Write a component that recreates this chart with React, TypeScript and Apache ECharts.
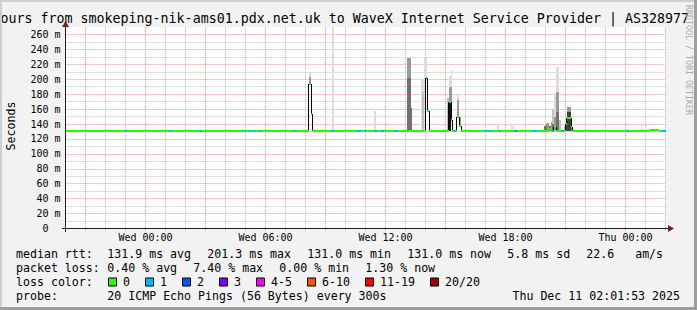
import { useEffect, useRef } from 'react';
import * as echarts from 'echarts';

// ---- time axis: 5-minute steps from Tue 20:00 to Thu 02:00 ----
const STEP_COUNT = 360;
const BASELINE_RTT = 131;

const xTickSteps = [48, 120, 192, 264, 336];
const xTickLabels = ['Wed 00:00', 'Wed 06:00', 'Wed 12:00', 'Wed 18:00', 'Thu 00:00'];

const yTickValues = [0, 20, 40, 60, 80, 100, 120, 140, 160, 180, 200, 220, 240, 260];
const yTickLabels = ['0', '20 m', '40 m', '60 m', '80 m', '100 m', '120 m', '140 m', '160 m', '180 m', '200 m', '220 m', '240 m', '260 m'];

// ---- median rtt (ms) at the steps where it leaves the 131 ms baseline ----
const medianSteps = [146, 147, 216, 217, 230, 231, 235, 236, 290, 293, 300, 301, 302, 303, 350, 351, 352, 353, 354, 355];
const medianValues = [194, 154, 201.3, 157, 169, 145, 150, 137, 133, 136, 140, 148, 148, 136, 132.4, 132.4, 132.4, 132.4, 132.4, 132.4];

// ---- lost pings (of 20) at the steps with loss ----
const lossSteps = [35, 36, 62, 63, 80, 81, 107, 110, 113, 116, 137, 138, 146, 147, 159, 160, 175, 176, 179, 185, 186, 189, 190, 197, 198, 216, 231, 233, 251, 252, 254, 255, 260, 269, 270, 280, 281, 282, 292, 298, 337, 358, 359];
const lossCounts = [1, 1, 1, 1, 1, 1, 1, 1, 1, 1, 1, 1, 1, 1, 1, 1, 1, 1, 1, 1, 1, 1, 1, 1, 1, 1, 1, 1, 1, 1, 1, 1, 1, 1, 2, 1, 1, 1, 1, 1, 1, 1, 1];

// ---- smoke bands: step, low ms, high ms, shade (0 light .. 5 dark) ----
const smokeSteps = [146, 146, 147, 160, 185, 205, 205, 206, 206, 207, 213, 214, 214, 215, 216, 229, 230, 230, 230, 231, 231, 235, 235, 236, 259, 267, 268, 287, 288, 289, 290, 291, 292, 292, 293, 293, 294, 294, 294, 295, 295, 295, 296, 299, 300, 301, 301, 302, 302, 303, 345];
const smokeLow = [194, 203, 154, 131, 131, 131, 201, 131, 201, 131, 131, 131, 131, 131, 201, 131, 131, 169, 190, 145, 190, 150, 172, 137, 131, 131, 131, 131, 131, 131, 131, 131, 131, 131, 131, 131, 183, 156, 131, 183, 156, 131, 131, 131, 131, 131, 156, 131, 156, 131, 131];
const smokeHigh = [203, 210, 167, 270, 157, 201, 228, 201, 228, 162, 200, 200, 183, 228, 228, 175, 169, 190, 205, 190, 213, 172, 180, 150, 139, 141, 137, 137, 140, 142, 138, 143, 160, 140, 181, 150, 217, 183, 156, 217, 183, 156, 145, 137, 141, 156, 163, 156, 163, 136, 141];
const smokeTone = [2, 0, 0, 0, 0, 3, 2, 3, 2, 3, 0, 0, 1, 0, 0, 1, 5, 2, 0, 2, 0, 2, 0, 2, 0, 0, 0, 3, 3, 2, 3, 2, 1, 3, 0, 2, 0, 2, 3, 0, 2, 3, 1, 1, 4, 4, 2, 4, 2, 3, 0];

// ---- legend ----
const lossBucketLabels = ['0', '1', '2', '3', '4-5', '6-10', '11-19', '20/20'];
const lossBucketColors = ['#26ff00', '#00b8ff', '#0059ff', '#7e00ff', '#ff00ff', '#ff5500', '#ff0000', '#a10000'];
const rttStats = ['131.9 ms avg', '201.3 ms max', '131.0 ms min', '131.0 ms now', '5.8 ms sd', '22.6   am/s'];
const lossStats = ['0.40 % avg', '7.40 % max', '0.00 % min', '1.30 % now'];
const titleText = 'ours from smokeping-nik-ams01.pdx.net.uk to WaveX Internet Service Provider | AS328977';
const probeText = '20 ICMP Echo Pings (56 Bytes) every 300s';
const dateText = 'Thu Dec 11 02:01:53 2025';

const FONT = '"DejaVu Sans Mono", monospace';
const SMOKE_SHADES = ['#dcdcdc', '#c0c0c0', '#9a9a9a', '#707070', '#404040', '#141414'];
const GRID_MINOR = 'rgba(150,150,150,0.6)';
const GRID_MAJOR = 'rgba(222,79,79,0.6)';
const ARROW = '#7f1f1f';
const AXIS = '#1f1f1f';

function bucketOf(n: number) {
  if (n <= 3) return n;
  if (n <= 5) return 4;
  if (n <= 10) return 5;
  if (n <= 19) return 6;
  return 7;
}

function txt(x: number, y: number, text: string, size: number, extra: any = {}) {
  return {
    type: 'text',
    x,
    y,
    z: 50,
    ...extra,
    style: {
      text,
      fill: '#000',
      fontFamily: FONT,
      fontSize: size,
      align: 'left',
      verticalAlign: 'middle',
      textAlign: 'left',
      textVerticalAlign: 'middle',
      ...(extra.style || {}),
    },
  };
}

function buildOption() {
  const median: number[] = new Array(STEP_COUNT).fill(BASELINE_RTT);
  medianSteps.forEach((s, i) => (median[s] = medianValues[i]));
  const loss: number[] = new Array(STEP_COUNT).fill(0);
  lossSteps.forEach((s, i) => (loss[s] = lossCounts[i]));

  const medianData = median.map((m, s) => [s, m, bucketOf(loss[s])]);
  const jumpData: number[][] = [];
  for (let s = 1; s < STEP_COUNT; s++) {
    if (Math.abs(median[s] - median[s - 1]) > 2) jumpData.push([s, median[s - 1], median[s]]);
  }
  const smokeData = smokeSteps.map((s, i) => [s, smokeLow[i], smokeHigh[i], smokeTone[i]]);

  const CW = 7.0; // legend character width
  const rowY = [254.3, 268.3, 282.3, 296.3];
  const col = 107.3;
  const g: any[] = [];

  // frame / canvas
  g.push({ type: 'rect', z: -10, shape: { x: 65.5, y: 27, width: 600, height: 201.5 }, style: { fill: '#ffffff' } });
  g.push({ type: 'rect', z: 60, shape: { x: 0, y: 0, width: 697, height: 2 }, style: { fill: '#cfcfcf' } });
  g.push({ type: 'rect', z: 60, shape: { x: 0, y: 0, width: 2, height: 310 }, style: { fill: '#cfcfcf' } });
  g.push({ type: 'rect', z: 61, shape: { x: 0, y: 307, width: 697, height: 3 }, style: { fill: '#9e9e9e' } });
  g.push({ type: 'rect', z: 61, shape: { x: 694, y: 0, width: 3, height: 310 }, style: { fill: '#9e9e9e' } });

  // axes
  g.push({ type: 'line', z: 40, shape: { x1: 62, y1: 228.5, x2: 669, y2: 228.5 }, style: { stroke: AXIS, lineWidth: 1 } });
  g.push({ type: 'line', z: 40, shape: { x1: 65.5, y1: 232, x2: 65.5, y2: 25 }, style: { stroke: AXIS, lineWidth: 1 } });
  g.push({ type: 'polygon', z: 41, shape: { points: [[668, 225], [674, 228.5], [668, 232]] }, style: { fill: ARROW } });
  g.push({ type: 'polygon', z: 41, shape: { points: [[62, 27], [65.5, 21], [69, 27]] }, style: { fill: ARROW } });

  // titles
  g.push(txt(0.5, 18.5, titleText, 13.3));
  g.push(txt(10.5, 126, 'Seconds', 11.6, { rotation: Math.PI / 2, style: { align: 'center', textAlign: 'center' } }));
  g.push(txt(688.5, 60, 'RRDTOOL / TOBI OETIKER', 8.3, { rotation: -Math.PI / 2, style: { align: 'center', textAlign: 'center', fill: '#aaaaaa' } }));

  // legend row 1
  g.push(txt(16, rowY[0], 'median rtt:', 11.6));
  let x = col;
  rttStats.forEach((t) => {
    g.push(txt(x, rowY[0], t, 11.6));
    x += t.length * CW + 16;
  });
  // row 2
  g.push(txt(16, rowY[1], 'packet loss:', 11.6));
  x = col;
  lossStats.forEach((t) => {
    g.push(txt(x, rowY[1], t, 11.6));
    x += t.length * CW + 16;
  });
  // row 3
  g.push(txt(16, rowY[2], 'loss color:', 11.6));
  x = 108;
  lossBucketLabels.forEach((t, i) => {
    g.push({ type: 'rect', z: 50, shape: { x: x + 0.5, y: rowY[2] - 4.3, width: 8, height: 8 }, style: { fill: lossBucketColors[i], stroke: '#000', lineWidth: 1 } });
    g.push(txt(x + 15, rowY[2], t, 11.6));
    x += 15 + t.length * CW + 15;
  });
  // row 4
  g.push(txt(16, rowY[3], 'probe:', 11.6));
  g.push(txt(col, rowY[3], probeText, 11.6));
  g.push(txt(680, rowY[3], dateText, 11.6, { style: { align: 'right', textAlign: 'right' } }));

  return {
    animation: false,
    backgroundColor: '#f2f2f2',
    grid: { left: 65.5, top: 27, width: 600, height: 201.5, show: false, containLabel: false, outerBoundsMode: 'none' },
    xAxis: {
      type: 'value',
      min: 0,
      max: STEP_COUNT,
      interval: 12,
      axisLine: { show: false },
      axisTick: { show: true, length: 2, lineStyle: { color: GRID_MINOR } },
      axisLabel: {
        show: true,
        margin: 3.5,
        color: '#000',
        fontFamily: FONT,
        fontSize: 10,
        formatter: (v: number) => {
          const i = xTickSteps.indexOf(Math.round(v));
          return i >= 0 ? xTickLabels[i] : '';
        },
      },
      splitLine: { show: true, lineStyle: { color: [GRID_MINOR, GRID_MAJOR, GRID_MINOR], type: [1, 1], width: 1 } },
    },
    yAxis: {
      type: 'value',
      min: 0,
      max: 270,
      interval: 10,
      axisLine: { show: false },
      axisTick: { show: false },
      axisLabel: {
        margin: 5,
        color: '#000',
        fontFamily: FONT,
        fontSize: 10,
        formatter: (v: number) => {
          const i = yTickValues.indexOf(Math.round(v));
          if (i < 0) return '';
          return v === 0 ? '{zero|' + yTickLabels[i] + '}' : yTickLabels[i];
        },
        rich: { zero: { padding: [0, 12, 0, 0], fontFamily: FONT, fontSize: 10, color: '#000' } },
      },
      splitLine: { show: true, showMaxLine: false, lineStyle: { color: [GRID_MAJOR, GRID_MINOR], type: [1, 1], width: 1 } },
    },
    series: [
      {
        type: 'custom',
        name: 'smoke',
        z: 2,
        data: smokeData,
        encode: { x: 0, y: [1, 2] },
        renderItem: (_p: any, api: any) => {
          const s = api.value(0);
          const a = api.coord([s, api.value(2)]);
          const b = api.coord([s + 1, api.value(1)]);
          const x0 = Math.round(a[0]);
          const x1 = Math.round(b[0]);
          const y0 = Math.round(a[1]);
          const y1 = Math.round(b[1]);
          return { type: 'rect', shape: { x: x0, y: y0, width: Math.max(1, x1 - x0), height: Math.max(1, y1 - y0) }, style: { fill: SMOKE_SHADES[api.value(3)] } };
        },
      },
      {
        type: 'custom',
        name: 'median jumps',
        z: 3,
        data: jumpData,
        encode: { x: 0, y: [1, 2] },
        renderItem: (_p: any, api: any) => {
          const s = api.value(0);
          const prev = api.value(1);
          const cur = api.value(2);
          const p = api.coord([s, prev]);
          const q = api.coord([s, cur]);
          const xc = Math.round(p[0]) + (cur > prev ? -1 : 0);
          const yTop = Math.round(Math.min(p[1], q[1]));
          const yBot = Math.round(Math.max(p[1], q[1]));
          return { type: 'rect', shape: { x: xc, y: yTop, width: 1, height: yBot - yTop + 1 }, style: { fill: '#000' } };
        },
      },
      {
        type: 'custom',
        name: 'median',
        z: 4,
        data: medianData,
        encode: { x: 0, y: 1 },
        renderItem: (_p: any, api: any) => {
          const s = api.value(0);
          const a = api.coord([s, api.value(1)]);
          const b = api.coord([s + 1, api.value(1)]);
          const x0 = Math.round(a[0]);
          const x1 = Math.round(b[0]);
          return { type: 'rect', shape: { x: x0, y: Math.round(a[1] - 1), width: Math.max(1, x1 - x0), height: 2 }, style: { fill: lossBucketColors[api.value(2)] } };
        },
      },
    ],
    graphic: { elements: g },
  };
}

export default function App() {
  const ref = useRef<HTMLDivElement>(null);
  useEffect(() => {
    if (!ref.current) return;
    const chart = echarts.init(ref.current, null, { renderer: 'svg' });
    chart.setOption(buildOption() as any);
    return () => chart.dispose();
  }, []);
  return <div ref={ref} style={{ position: 'fixed', left: 0, top: 0, width: 697, height: 310 }} />;
}
